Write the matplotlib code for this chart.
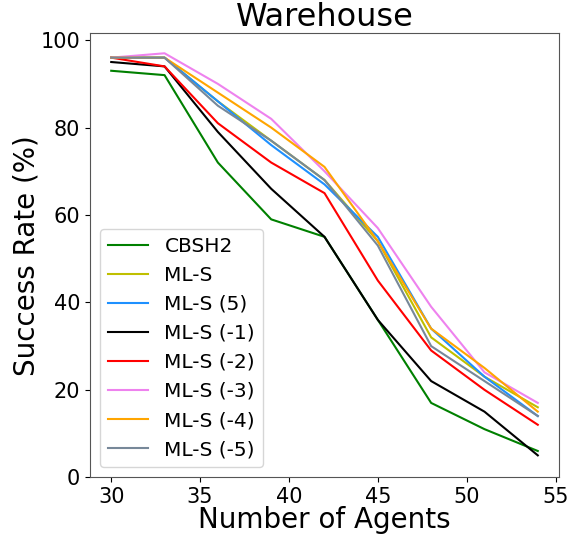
import numpy as np
import matplotlib
matplotlib.use("Agg")
import matplotlib.pyplot as plt

agents = [30, 33, 36, 39, 42, 45, 48, 51, 54]

cbsh2 = [93, 92, 72, 59, 55, 36, 17, 11, 6]
ml_s = [96, 96, 86, 77, 68, 54, 32, 23, 16]
ml_s_5 = [96, 96, 86, 76, 67, 55, 34, 23, 14]
ml_s_m1 = [95, 94, 79, 66, 55, 36, 22, 15, 5]
ml_s_m2 = [96, 94, 81, 72, 65, 45, 29, 20, 12]
ml_s_m3 = [96, 97, 90, 82, 70, 57, 39, 24, 17]
ml_s_m4 = [96, 96, 88, 80, 71, 54, 34, 25, 15]
ml_s_m5 = [96, 96, 85, 77, 68, 53, 30, 22, 14]

names = ["CBSH2", "ML-S", "ML-S (5)", "ML-S (-1)", "ML-S (-2)",
         "ML-S (-3)", "ML-S (-4)", "ML-S (-5)"]
series = [cbsh2, ml_s, ml_s_5, ml_s_m1, ml_s_m2, ml_s_m3, ml_s_m4, ml_s_m5]
colors = ["green", "y", "dodgerblue", "k", "r", "violet", "orange", "lightslategray"]

fig = plt.figure(figsize=(5.8, 5.35), dpi=100)
ax = fig.add_axes([0.155, 0.108, 0.809, 0.83])

for vals, name, c in zip(series, names, colors):
    ax.plot(agents, vals, color=c, label=name, linewidth=1.5)

ax.set_xlim(28.8, 55.2)
ax.set_ylim(0, 101.6)
ax.set_xticks([30, 35, 40, 45, 50, 55])
ax.set_yticks([0, 20, 40, 60, 80, 100])
ax.tick_params(labelsize=15)
for sp in ax.spines.values():
    sp.set_color("#555555")
ax.set_title("Warehouse", fontsize=23, pad=4)
ax.set_xlabel("Number of Agents", fontsize=20, labelpad=-1)
ax.set_ylabel("Success Rate (%)", fontsize=20, labelpad=0)
ax.legend(loc="lower left", fontsize=14.5)

fig.savefig("out.png", dpi=100)
